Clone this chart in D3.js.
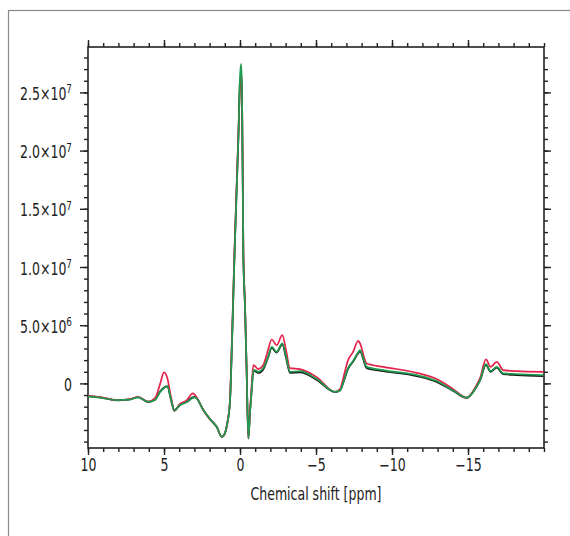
<!DOCTYPE html>
<html>
<head>
<meta charset="utf-8">
<script src="https://cdn.jsdelivr.net/npm/d3@7"></script>
<style>
  body { margin: 0; background: #fff; }
  text { font-family: "DejaVu Sans Condensed", "DejaVu Sans", sans-serif; fill: #222; }
</style>
</head>
<body>
<svg id="chart" width="570" height="536"></svg>
<script>
// chemical shift (ppm) of the sampled points
const ppm = [10.0, 9.21, 8.11, 7.24, 6.71, 6.05, 5.59, 5.26, 5.0, 4.78, 4.54, 4.32, 3.95, 3.49, 3.11, 2.96,
  2.41, 1.97, 1.53, 1.20, 1.05, 0.86, 0.66, 0.53, 0.36, 0.22, 0.11, 0, -0.07, -0.13, -0.22, -0.33, -0.44,
  -0.55, -0.66, -0.77, -0.88, -0.99, -1.20, -1.53, -1.84, -2.09, -2.41, -2.78, -3.03, -3.29, -3.95, -5.05,
  -6.25, -6.58, -6.84, -7.11, -7.43, -7.78, -7.89, -8.34, -9.43, -11.63, -12.94, -14.03, -14.91, -15.46,
  -15.79, -16.18, -16.49, -16.89, -17.32, -18.20, -19.95];

// signal, in units of 1e6
const redSeries = [-1.09, -1.17, -1.43, -1.35, -1.17, -1.56, -1.26, -0.06, 0.94, 0.45, -1.17, -2.29, -1.77,
  -1.43, -0.86, -1.00, -2.29, -3.06, -3.72, -4.58, -4.43, -3.57, -1.43, 3.71, 11.43, 16.99, 21.28, 25.46,
  26.68, 25.46, 11.43, 6.71, 0.88, -4.69, -2.29, -0.15, 1.57, 1.48, 1.23, 1.57, 2.85, 3.77, 3.28, 4.14, 2.85,
  1.31, 1.23, 0.54, -0.72, -0.49, 0.71, 2.0, 2.68, 3.65, 3.45, 1.71, 1.42, 0.91, 0.37, -0.49, -1.23, -0.40,
  0.45, 2.06, 1.42, 1.85, 1.14, 1.05, 0.99];

const greenSeries = [-1.13, -1.22, -1.43, -1.39, -1.20, -1.58, -1.43, -0.75, -0.40, -0.23, -1.35, -2.29, -1.86,
  -1.60, -1.26, -1.20, -2.29, -3.06, -3.72, -4.58, -4.43, -3.57, -1.60, 3.28, 11.0, 16.56, 20.85, 26.31,
  27.45, 25.46, 10.91, 6.57, 0.88, -4.69, -2.46, -0.57, 1.14, 1.14, 0.99, 1.31, 2.25, 3.14, 2.71, 3.43, 2.34,
  0.99, 1.05, 0.37, -0.72, -0.62, 0.28, 1.31, 1.91, 2.68, 2.85, 1.42, 1.14, 0.71, 0.20, -0.62, -1.23, -0.49,
  0.28, 1.65, 1.05, 1.42, 0.86, 0.80, 0.71];

const blackSeries = [-1.10, -1.20, -1.45, -1.37, -1.18, -1.60, -1.40, -0.70, -0.35, -0.25, -1.40, -2.35, -1.85,
  -1.55, -1.20, -1.15, -2.30, -3.10, -3.75, -4.60, -4.45, -3.60, -1.55, 3.50, 11.2, 16.8, 21.0, 25.9,
  26.2, 24.8, 11.1, 6.6, 0.9, -4.75, -2.40, -0.50, 1.10, 1.05, 0.90, 1.20, 2.20, 3.05, 2.65, 3.35, 2.20,
  0.90, 0.95, 0.30, -0.75, -0.60, 0.25, 1.25, 1.85, 2.60, 2.75, 1.30, 1.05, 0.62, 0.12, -0.65, -1.25, -0.50,
  0.25, 1.60, 1.00, 1.35, 0.80, 0.72, 0.62];

const xTicks = [10, 5, 0, -5, -10, -15];
const xTickLabels = ["10", "5", "0", "\u22125", "\u221210", "\u221215"];
const yTicks = [0, 5e6, 1e7, 1.5e7, 2e7, 2.5e7];
const yTickMant = ["0", "5.0", "1.0", "1.5", "2.0", "2.5"];
const yTickExp = ["", "6", "7", "7", "7", "7"];
const xTitle = "Chemical shift [ppm]";

const margin = {top: 47, right: 26, bottom: 88, left: 88};
const width  = 570 - (margin.left + margin.right);
const height = 536 - (margin.top + margin.bottom);
const squeeze = 0.82;   // narrow the glyphs, the original uses a condensed face

const svg = d3.select("#chart");

// outer grey frame (runs off the picture on the right and bottom)
svg.append("rect")
  .attr("x", 8.5).attr("y", 10.5)
  .attr("width", 700).attr("height", 700)
  .attr("fill", "none")
  .attr("stroke", "#8a8a8a")
  .attr("stroke-width", 1.2);

const g = svg.append("g")
  .attr("transform", "translate(" + margin.left + "," + margin.top + ")");

const x = d3.scaleLinear().domain([10, -20]).range([0, width]);
const y = d3.scaleLinear().domain([-5.55e6, 2.89e7]).range([height, 0]);

const xMinor = d3.range(-20, 11);
const yMinor = d3.range(-5e6, 2.85e7, 1e6);

function styleAxis(sel) {
  sel.select(".domain").remove();
  sel.selectAll(".tick line").attr("stroke", "#222").attr("stroke-width", 1.4);
}

// minor ticks on all four sides
g.append("g").attr("transform", "translate(0," + height + ")")
  .call(d3.axisBottom(x).tickValues(xMinor).tickSize(4).tickFormat("")).call(styleAxis);
g.append("g")
  .call(d3.axisTop(x).tickValues(xMinor).tickSize(4).tickFormat("")).call(styleAxis);
g.append("g")
  .call(d3.axisLeft(y).tickValues(yMinor).tickSize(4).tickFormat("")).call(styleAxis);
g.append("g").attr("transform", "translate(" + width + ",0)")
  .call(d3.axisRight(y).tickValues(yMinor).tickSize(4).tickFormat("")).call(styleAxis);

// major ticks
const xAxisG = g.append("g").attr("transform", "translate(0," + height + ")")
  .call(d3.axisBottom(x).tickValues(xTicks).tickSize(7).tickPadding(4)
    .tickFormat((d, i) => xTickLabels[i]))
  .call(styleAxis);
xAxisG.selectAll("text")
  .style("font-size", "17px")
  .attr("transform", "scale(" + squeeze + ",1)");

g.append("g")
  .call(d3.axisTop(x).tickValues(xTicks).tickSize(7).tickFormat("")).call(styleAxis);
g.append("g").attr("transform", "translate(" + width + ",0)")
  .call(d3.axisRight(y).tickValues(yTicks).tickSize(7).tickFormat("")).call(styleAxis);

const yAxisG = g.append("g")
  .call(d3.axisLeft(y).tickValues(yTicks).tickSize(8).tickFormat(""))
  .call(styleAxis);

// y labels with superscript exponent
yAxisG.selectAll(".tick").each(function(d, i) {
  const t = d3.select(this).select("text")
    .attr("x", 0).attr("dy", "0.42em")
    .attr("text-anchor", "end")
    .attr("transform", "translate(-16,0) scale(" + squeeze + ",1)")
    .style("font-size", "17px");
  t.text(null);
  if (yTickExp[i] === "") {
    t.append("tspan").text(yTickMant[i]);
  } else {
    t.append("tspan").text(yTickMant[i] + "\u00d710");
    t.append("tspan").attr("dy", "-0.55em").style("font-size", "12px").text(yTickExp[i]);
  }
});

// frame
g.append("rect")
  .attr("width", width).attr("height", height)
  .attr("fill", "none")
  .attr("stroke", "#222")
  .attr("stroke-width", 1.6);

g.append("defs").append("clipPath").attr("id", "clip")
  .append("rect").attr("width", width).attr("height", height);

const line = d3.line()
  .curve(d3.curveMonotoneX)
  .x(d => x(d[0]))
  .y(d => y(d[1] * 1e6));

const series = [
  {vals: blackSeries, color: "#1a1a1a", w: 1.8},
  {vals: redSeries,   color: "#e3234a", w: 1.7},
  {vals: greenSeries, color: "#1f9a4e", w: 1.7}
];

const plot = g.append("g").attr("clip-path", "url(#clip)");
series.forEach(s => {
  plot.append("path")
    .datum(ppm.map((p, i) => [p, s.vals[i]]))
    .attr("fill", "none")
    .attr("stroke", s.color)
    .attr("stroke-width", s.w)
    .attr("stroke-linejoin", "round")
    .attr("d", line);
});

g.append("text")
  .attr("text-anchor", "middle")
  .attr("transform", "translate(" + (width / 2) + "," + (height + 52) + ") scale(" + squeeze + ",1)")
  .style("font-size", "17px")
  .text(xTitle);
</script>
</body>
</html>
